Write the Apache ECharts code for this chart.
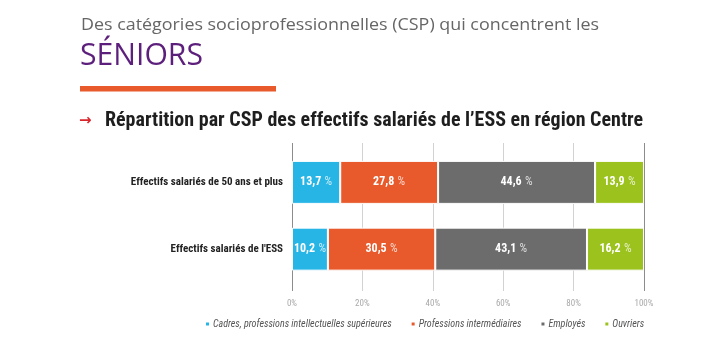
<!DOCTYPE html>
<html>
<head>
<meta charset="utf-8">
<script src="https://cdn.jsdelivr.net/npm/echarts@6/dist/echarts.min.js"></script>
<style>
html,body{margin:0;padding:0;background:#fff;}
#c{width:717px;height:340px;}
</style>
</head>
<body>
<div id="c"></div>
<script>
const categories = ['Effectifs salariés de 50 ans et plus', "Effectifs salariés de l'ESS"];
const seriesNames = ['Cadres, professions intellectuelles supérieures', 'Professions intermédiaires', 'Employés', 'Ouvriers'];
const cadres = [13.7, 10.2];
const intermediaires = [27.8, 30.5];
const employes = [44.6, 43.1];
const ouvriers = [13.9, 16.2];
const xTicks = [0, 20, 40, 60, 80, 100];

const titleText = 'Des catégories socioprofessionnelles (CSP) qui concentrent les';
const headText = 'SÉNIORS';
const subText = 'Répartition par CSP des effectifs salariés de l’ESS en région Centre';

const colors = ['#27b5e6', '#e85a2c', '#6d6c6d', '#9cc31d'];
const values = [cadres, intermediaires, employes, ouvriers];
const cond = '"Roboto Condensed", "DejaVu Sans Condensed", sans-serif';
const open = '"Open Sans", "Noto Sans", sans-serif';

const mctx = document.createElement('canvas').getContext('2d');
function fitScale(text, font, target) {
  mctx.font = font;
  return target / mctx.measureText(text).width;
}

const titleFont = '500 16px ' + open;
const headFont = '31px ' + open;
const subFont = 'bold 20px ' + cond;

const chart = echarts.init(document.getElementById('c'), null, {renderer: 'canvas'});
chart.setOption({
  animation: false,
  color: colors,
  graphic: [
    {type: 'text', x: 81, y: 25.5, scaleX: fitScale(titleText, titleFont, 518), originX: 0,
      style: {text: titleText, font: titleFont, fill: '#666', verticalAlign: 'middle', align: 'left'}},
    {type: 'text', x: 80, y: 56.5, scaleX: fitScale(headText, headFont, 123), originX: 0,
      style: {text: headText, font: headFont, fill: '#5d1f7c', verticalAlign: 'middle', align: 'left'}},
    {type: 'rect', shape: {x: 80, y: 86, width: 196, height: 5.5}, style: {fill: '#e85a2c'}},
    {type: 'text', x: 79, y: 121, style: {text: '→', font: 'bold 15px "DejaVu Sans", sans-serif', fill: '#d9262c', verticalAlign: 'middle', align: 'left'}},
    {type: 'text', x: 105, y: 120.5, scaleX: fitScale(subText, subFont, 538), originX: 0,
      style: {text: subText, font: subFont, fill: '#1e1e1e', verticalAlign: 'middle', align: 'left'}}
  ],
  legend: {
    data: seriesNames,
    left: 204,
    top: 319,
    padding: 0,
    itemWidth: 5,
    itemHeight: 5,
    itemGap: 18,
    icon: 'rect',
    textStyle: {fontFamily: cond, fontStyle: 'italic', fontSize: 10, color: '#555', padding: [0, 0, 0, -2]}
  },
  grid: [
    {left: 292, right: 73, top: 149, bottom: 57.5},
    {left: 292, right: 73, top: 143, bottom: 49}
  ],
  xAxis: [
    {type: 'value', gridIndex: 0, min: 0, max: 100, interval: 20, show: false},
    {type: 'value', gridIndex: 1, min: 0, max: 100, interval: 20,
      axisLine: {show: false}, axisTick: {show: false},
      axisLabel: {formatter: '{value}%', color: '#aaa', fontSize: 9, fontFamily: cond, margin: 8},
      splitLine: {show: true, lineStyle: {color: ['#8c8c8c', '#d2d2d2', '#d2d2d2', '#d2d2d2', '#d2d2d2', '#8c8c8c'], width: 1}}}
  ],
  yAxis: [
    {type: 'category', gridIndex: 0, data: categories, inverse: true,
      axisLine: {show: false}, axisTick: {show: false},
      axisLabel: {color: '#222', fontSize: 11, fontFamily: cond, fontWeight: 'bold', margin: 9}},
    {type: 'value', gridIndex: 1, show: false, min: 0, max: 1, splitLine: {show: false}}
  ],
  series: seriesNames.map((n, i) => ({
    name: n, type: 'bar', stack: 'total', data: values[i], barWidth: 43,
    xAxisIndex: 0, yAxisIndex: 0,
    itemStyle: {borderColor: '#fff', borderWidth: 1},
    label: {
      show: true, position: 'inside',
      formatter: p => '{v|' + p.value.toFixed(1).replace('.', ',') + '} {p|%}',
      rich: {
        v: {color: '#fff', fontSize: 12, fontFamily: cond, fontWeight: 'bold'},
        p: {color: 'rgba(255,255,255,0.75)', fontSize: 12, fontFamily: cond}
      }
    }
  }))
});
</script>
</body>
</html>
